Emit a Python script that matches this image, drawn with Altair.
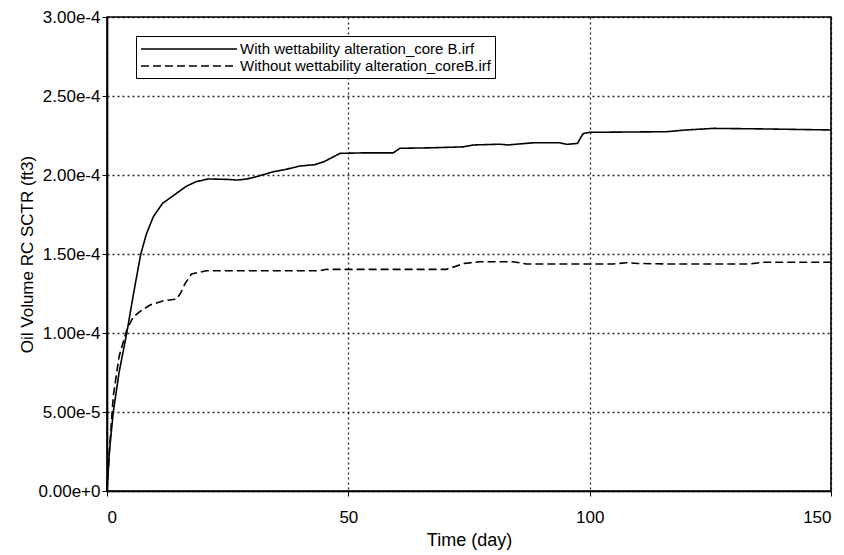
import altair as alt
import pandas as pd

# Series 1: With wettability alteration (time in days, volume in 1e-4 ft3)
t_with = [0, 0.5, 1.3, 2.5, 4.1, 5.5, 7.0, 8.2, 9.6, 11.5, 14.4, 16.5, 18.5, 21, 25, 27, 29, 31,
          34.4, 37, 40, 43, 45, 48.3, 53, 59.3, 60.7, 67, 73.8, 75.9, 81.4, 83, 88.3, 93.8, 95.2,
          97.5, 98.2, 98.7, 100, 115.9, 120, 125.6, 135, 150]
v_with = [0, 0.25, 0.5, 0.75, 1.0, 1.25, 1.5, 1.63, 1.736, 1.82, 1.884, 1.93, 1.958, 1.975, 1.972,
          1.968, 1.975, 1.99, 2.02, 2.035, 2.057, 2.065, 2.085, 2.137, 2.14, 2.14, 2.169, 2.172,
          2.178, 2.19, 2.195, 2.19, 2.204, 2.204, 2.194, 2.2, 2.24, 2.263, 2.27, 2.274, 2.285,
          2.295, 2.292, 2.285]

# Series 2: Without wettability alteration
t_without = [0, 0.6, 1.3, 2.5, 4.1, 5.4, 6.8, 8.9, 11.7, 14.4, 15.2, 16.2, 17.5, 20.6, 30, 44.1,
             45.5, 51, 60, 70.3, 72, 74, 77.2, 84.1, 86.9, 104.8, 107.6, 110, 116, 133, 136, 150]
v_without = [0, 0.3, 0.6, 0.85, 1.02, 1.10, 1.135, 1.177, 1.204, 1.215, 1.25, 1.314, 1.373, 1.394,
             1.394, 1.394, 1.403, 1.403, 1.403, 1.403, 1.42, 1.44, 1.451, 1.451, 1.437, 1.437,
             1.445, 1.44, 1.437, 1.437, 1.448, 1.448]

series_names = ["With wettability alteration_core B.irf", "Without wettability alteration_coreB.irf"]
x_ticks = [0, 50, 100, 150]
y_ticks = [0, 5e-5, 1e-4, 1.5e-4, 2e-4, 2.5e-4, 3e-4]

rows = []
for i, (t, v) in enumerate(zip(t_with, v_with)):
    rows.append({"time": t, "vol": v * 1e-4, "series": series_names[0], "order": i})
for i, (t, v) in enumerate(zip(t_without, v_without)):
    rows.append({"time": t, "vol": v * 1e-4, "series": series_names[1], "order": i})
df = pd.DataFrame(rows)

FONT = "Liberation Sans"

chart = alt.Chart(df).mark_line(color="black", strokeWidth=1.6).encode(
    x=alt.X("time:Q", title="Time (day)",
            scale=alt.Scale(domain=[0, 150], nice=False, zero=False),
            axis=alt.Axis(values=x_ticks, format="d")),
    y=alt.Y("vol:Q", title="Oil Volume RC SCTR (ft3)",
            scale=alt.Scale(domain=[0, 3e-4], nice=False),
            axis=alt.Axis(values=y_ticks, format=".2e")),
    strokeDash=alt.StrokeDash("series:N",
                              scale=alt.Scale(domain=series_names, range=[[1, 0], [8, 4]]),
                              legend=alt.Legend(title=None, orient="none", legendX=29, legendY=19,
                                                symbolType="M-1,0H11", symbolSize=256,
                                                symbolOffset=0,
                                                symbolStrokeColor="black", symbolStrokeWidth=1.4,
                                                labelFontSize=15, labelFont=FONT, labelColor="black",
                                                labelLimit=0, labelOffset=82,
                                                strokeColor="black", fillColor="white",
                                                padding=4, rowPadding=0)),
    order="order:Q",
).properties(
    width=724, height=474,
    padding={"left": 107, "top": 17, "right": 13, "bottom": 64},
    autosize=alt.AutoSizeParams(type="none"),
).configure(
    font=FONT,
).configure_view(
    stroke="black", strokeWidth=1.6, fill="white",
).configure_axis(
    domainColor="black", domainWidth=1.6,
    tickColor="black", tickSize=5, tickWidth=1,
    labelColor="black", labelFontSize=17, labelFont=FONT,
    titleColor="black", titleFont=FONT, titleFontWeight="normal",
    grid=True, gridColor="black", gridDash=[2, 3], gridWidth=1.3, gridOpacity=0.85,
).configure_axisX(
    labelPadding=13, titlePadding=6, titleFontSize=18,
).configure_axisY(
    labelPadding=2, titlePadding=2, titleFontSize=17,
)

chart.save("out.html", embed_options={"renderer": "svg", "actions": False})
